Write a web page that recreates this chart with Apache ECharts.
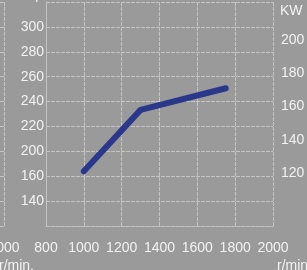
<!DOCTYPE html>
<html>
<head>
<meta charset="utf-8">
<script src="https://cdn.jsdelivr.net/npm/echarts@6/dist/echarts.min.js"></script>
<style>
  html, body { margin: 0; padding: 0; background: #9a9a9a; }
  #chart { width: 307px; height: 270px; }
</style>
</head>
<body>
<div id="chart"></div>
<script>
// engine speed (r/min) and power (KW)
const rpm = [1000, 1300, 1750]
const powerKw = [121, 158, 171]

// left tick labels as printed, bottom to top (180 is missing in the original)
const hpLabels = ['', '140', '160', '200', '220', '240', '260', '280', '300', '']
// right tick labels
const kwLabels = [120, 140, 160, 180, 200]

const textColor = '#f2f2f2'
const gridColor = '#c4c4c4'

const chart = echarts.init(document.getElementById('chart'))

chart.setOption({
  backgroundColor: '#9a9a9a',
  textStyle: { fontFamily: 'Liberation Sans, Arial, sans-serif' },
  animation: false,
  grid: [
    // main chart
    { left: 46, top: 2, width: 227, height: 224, outerBoundsMode: 'none' },
    // neighbouring chart, cut off on the left
    { left: -300, top: 2, width: 304, height: 224, outerBoundsMode: 'none' }
  ],
  xAxis: [
    {
      gridIndex: 0,
      type: 'value',
      min: 800,
      max: 2000,
      interval: 200,
      name: 'r/min.',
      nameLocation: 'end',
      nameGap: 39,
      nameTextStyle: { color: textColor, fontSize: 14, align: 'right', verticalAlign: 'top', padding: [33, 0, 0, 0] },
      axisLine: { show: true, lineStyle: { color: gridColor, type: [4, 1] } },
      axisTick: { show: false },
      axisLabel: { color: textColor, fontSize: 14, margin: 15, formatter: v => String(v) },
      splitLine: { show: true, lineStyle: { color: gridColor, type: [4, 1] } }
    },
    {
      gridIndex: 1,
      type: 'value',
      min: 800,
      max: 2000,
      interval: 200,
      name: 'r/min.',
      nameLocation: 'end',
      nameGap: 30,
      nameTextStyle: { color: textColor, fontSize: 14, align: 'right', verticalAlign: 'top', padding: [33, 0, 0, 0] },
      axisLine: { show: false },
      axisTick: { show: false },
      axisLabel: { color: textColor, fontSize: 14, margin: 15, formatter: v => String(v) },
      splitLine: { show: true, lineStyle: { color: gridColor, type: [4, 1] } }
    }
  ],
  yAxis: [
    {
      gridIndex: 0,
      type: 'value',
      min: 120,
      max: 300,
      interval: 20,
      name: 'Hp',
      nameLocation: 'end',
      nameGap: 0,
      nameTextStyle: { color: textColor, fontSize: 14, align: 'right', verticalAlign: 'bottom', padding: [0, 3, 0, 0] },
      axisLine: { show: true, lineStyle: { color: gridColor } },
      axisTick: { show: false },
      axisLabel: {
        color: textColor,
        fontSize: 14,
        margin: 2,
        formatter: (v, i) => hpLabels[i] || ''
      },
      splitLine: { show: true, lineStyle: { color: gridColor, type: [4, 1] } }
    },
    {
      gridIndex: 0,
      type: 'value',
      position: 'right',
      min: 88,
      max: 223,
      name: 'KW',
      nameLocation: 'end',
      nameGap: 0,
      nameTextStyle: { color: textColor, fontSize: 14, align: 'left', verticalAlign: 'top', padding: [2, 0, 0, 7] },
      axisLine: { show: false },
      axisTick: { show: false },
      axisLabel: { color: textColor, fontSize: 14, margin: 8, customValues: kwLabels },
      splitLine: { show: false }
    },
    {
      gridIndex: 1,
      type: 'value',
      min: 120,
      max: 300,
      interval: 20,
      axisLine: { show: false },
      axisTick: { show: false },
      axisLabel: { show: false },
      splitLine: { show: true, lineStyle: { color: gridColor, type: [4, 1] } }
    }
  ],
  series: [
    {
      type: 'line',
      xAxisIndex: 0,
      yAxisIndex: 1,
      data: rpm.map((r, i) => [r, powerKw[i]]),
      showSymbol: false,
      lineStyle: { color: '#2a378a', width: 6, cap: 'round', join: 'round' }
    }
  ]
})
</script>
</body>
</html>
